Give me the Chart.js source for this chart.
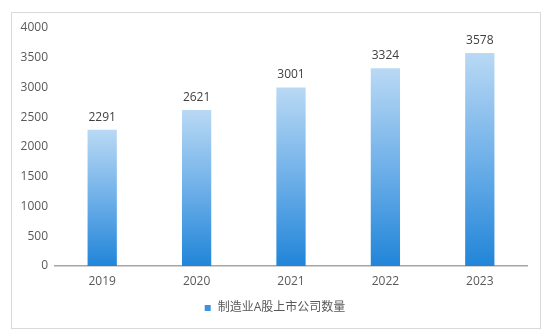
<!DOCTYPE html>
<html>
<head>
<meta charset="utf-8">
<script src="https://cdn.jsdelivr.net/npm/chart.js@4.4.0/dist/chart.umd.min.js"></script>
<style>
html,body{margin:0;padding:0;background:#fff;}
#wrap{position:relative;width:554px;height:334px;}
</style>
</head>
<body>
<div id="wrap"><canvas id="c" width="554" height="334"></canvas></div>
<script>
const categories = ['2019', '2020', '2021', '2022', '2023'];
const companyCounts = [2291, 2621, 3001, 3324, 3578];
const seriesName = '制造业A股上市公司数量';
const yTicks = [0, 500, 1000, 1500, 2000, 2500, 3000, 3500, 4000];

const FONT = '"Open Sans", "Noto Sans CJK SC", sans-serif';
const TEXT = '#595959';

function barGradient(ctx) {
  const chart = ctx.chart;
  const area = chart.chartArea;
  if (!area || ctx.dataIndex === undefined) return '#5aa6e6';
  const y = chart.scales.y.getPixelForValue(companyCounts[ctx.dataIndex]);
  const g = chart.ctx.createLinearGradient(0, y, 0, area.bottom);
  g.addColorStop(0, '#b9d9f4');
  g.addColorStop(0.5, '#6fb0e9');
  g.addColorStop(1, '#2185d8');
  return g;
}

const framePlugin = {
  id: 'frame',
  beforeDraw(chart) {
    const c = chart.ctx;
    c.save();
    c.fillStyle = '#fff';
    c.fillRect(0, 0, chart.width, chart.height);
    c.strokeStyle = '#d9d9d9';
    c.lineWidth = 1;
    c.strokeRect(11.5, 12.5, 529, 316);
    c.restore();
  }
};

const valueLabels = {
  id: 'valueLabels',
  afterDatasetsDraw(chart) {
    const c = chart.ctx;
    const meta = chart.getDatasetMeta(0);
    c.save();
    c.font = '12px ' + FONT;
    c.fillStyle = '#404040';
    c.textAlign = 'center';
    c.textBaseline = 'alphabetic';
    meta.data.forEach((bar, i) => {
      c.fillText(String(companyCounts[i]), bar.x, bar.y - 9);
    });
    c.restore();
  }
};

const bottomLegend = {
  id: 'bottomLegend',
  afterDraw(chart) {
    const c = chart.ctx;
    const ds = chart.data.datasets[0];
    c.save();
    c.font = '12px ' + FONT;
    const tw = c.measureText(ds.label).width;
    const box = 6, gap = 7;
    const total = box + gap + tw;
    const cx = 275, cy = 308;
    const x0 = cx - total / 2;
    c.fillStyle = '#3b93de';
    c.fillRect(x0, cy - box / 2, box, box);
    c.fillStyle = TEXT;
    c.textAlign = 'left';
    c.textBaseline = 'middle';
    c.fillText(ds.label, x0 + box + gap, cy);
    c.restore();
  }
};

new Chart(document.getElementById('c'), {
  type: 'bar',
  data: {
    labels: categories,
    datasets: [{
      label: seriesName,
      data: companyCounts,
      backgroundColor: barGradient,
      borderWidth: 0,
      categoryPercentage: 1,
      barPercentage: 0.31
    }]
  },
  options: {
    responsive: false,
    animation: false,
    devicePixelRatio: 1,
    layout: { padding: { top: 28, right: 27, bottom: 38, left: 0 } },
    plugins: {
      legend: { display: false },
      tooltip: { enabled: false }
    },
    scales: {
      x: {
        afterFit(scale) { scale.height = 30; },
        grid: { display: false, drawTicks: false },
        border: { display: true, color: '#a6a6a6', width: 1.5 },
        ticks: { color: TEXT, font: { size: 12, family: FONT }, padding: 8 }
      },
      y: {
        min: 0,
        max: 4000,
        afterBuildTicks(scale) { scale.ticks = yTicks.map(v => ({ value: v })); },
        afterFit(scale) { scale.width = 55; },
        grid: { display: false, drawTicks: false },
        border: { display: false },
        ticks: { color: TEXT, font: { size: 12, family: FONT }, padding: 7, callback: v => String(v) }
      }
    }
  },
  plugins: [framePlugin, valueLabels, bottomLegend]
});
</script>
</body>
</html>
